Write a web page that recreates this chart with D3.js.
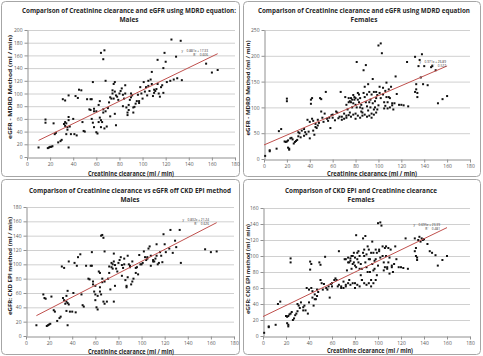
<!DOCTYPE html>
<html><head><meta charset="utf-8">
<script src="https://cdn.jsdelivr.net/npm/d3@7"></script>
<style>body{margin:0;background:#fff}svg{display:block}</style>
</head><body>
<svg id="c" width="483" height="356"></svg>
<script>
const xTicks = [0,20,40,60,80,100,120,140,160,180];
const malesMdrd = [[10,15],[16,59],[16,54],[18,14],[19,15],[20,16],[21,16],[22,17],[23,53],[25,38],[24,36],[27,23],[29,25],[30,27],[31,91],[33,89],[32,52],[33,55],[33,49],[34,53],[35,47],[36,63],[36,58],[37,48],[34,36],[35,43],[36,15],[36,97],[38,36],[40,60],[41,36],[42,96],[43,34],[44,93],[45,106],[47,105],[48,55],[49,41],[50,40],[52,91],[54,75],[55,91],[56,91],[57,118],[58,76],[56,60],[57,54],[58,47],[60,39],[61,37],[62,82],[63,88],[64,164],[66,154],[67,168],[68,120],[66,70],[63,62],[65,55],[64,47],[67,45],[69,48],[70,77],[71,86],[72,64],[73,92],[74,105],[75,115],[76,118],[77,50],[76,68],[78,95],[80,100],[82,108],[83,80],[84,92],[85,113],[86,78],[87,70],[88,74],[89,90],[90,100],[91,97],[92,70],[93,79],[94,84],[96,98],[97,88],[98,110],[100,92],[101,118],[102,103],[104,97],[105,120],[106,104],[107,122],[108,134],[109,96],[110,101],[112,107],[113,153],[115,95],[116,110],[117,113],[118,101],[119,164],[120,150],[118,140],[121,118],[124,120],[125,185],[127,122],[129,158],[133,183],[134,121],[155,147],[160,133],[165,137],[130,124],[55,74],[58,72],[60,72],[62,55],[64,58],[66,75],[68,72],[72,94],[74,100],[75,92],[76,103],[77,97],[79,90],[81,104],[83,98],[85,100],[87,66],[88,82],[90,94],[92,78],[95,88],[97,85],[99,100],[103,110],[105,112],[108,115],[110,106],[111,104],[113,115],[114,100]];
const femalesMdrd = [[1,6],[5,15],[5,17],[11,20],[13,54],[15,58],[20,117],[20,112],[18,34],[19,33],[20,34],[21,36],[21,22],[22,18],[22,20],[23,40],[24,41],[25,38],[28,35],[29,37],[30,44],[30,52],[31,50],[32,42],[33,55],[35,58],[37,48],[38,76],[39,53],[40,72],[40,40],[41,115],[41,107],[42,118],[42,78],[43,74],[43,55],[44,47],[45,68],[46,60],[47,65],[48,70],[49,118],[50,116],[50,92],[51,80],[52,72],[53,88],[54,130],[55,78],[56,74],[58,60],[59,85],[60,80],[62,75],[63,92],[65,79],[67,130],[68,82],[70,78],[71,120],[72,84],[73,96],[74,110],[75,90],[76,118],[77,100],[78,124],[79,115],[80,105],[80,88],[81,188],[82,128],[83,110],[84,100],[85,92],[86,84],[87,172],[88,140],[89,182],[90,125],[91,145],[92,110],[93,100],[94,88],[95,155],[96,130],[97,100],[98,118],[99,96],[100,220],[101,140],[102,224],[103,205],[104,125],[105,98],[106,132],[107,148],[108,110],[109,120],[110,100],[111,140],[112,108],[113,96],[115,160],[116,126],[118,105],[120,105],[122,104],[125,188],[126,102],[132,198],[133,135],[134,128],[135,180],[136,192],[137,158],[138,203],[139,145],[140,180],[143,143],[146,178],[147,180],[150,172],[152,108],[156,116],[160,122],[134,120],[133,145],[132,130],[72,105],[74,118],[75,112],[76,110],[77,115],[78,108],[79,120],[80,118],[81,100],[82,115],[83,125],[84,118],[85,105],[86,98],[87,128],[88,120],[89,110],[90,102],[91,94],[92,130],[93,115],[94,125],[95,108],[96,96],[97,112],[98,130],[99,124],[100,104],[101,128],[102,118],[104,138],[105,110],[106,103],[107,120],[108,98],[109,135],[110,118],[112,104],[114,108],[66,82],[68,76],[70,88],[72,80],[74,85],[76,82],[78,86],[80,78],[82,84],[84,80],[86,90],[88,86],[90,82],[92,84],[94,80],[96,86],[98,90],[64,90],[60,86],[57,80],[45,62],[47,76],[35,45],[36,52],[27,33],[26,30]];
const malesEpi = [[9,15],[15,58],[16,53],[17,52],[18,14],[19,15],[20,16],[21,17],[22,55],[24,36],[25,34],[27,21],[29,25],[30,27],[31,97],[33,95],[32,53],[33,50],[34,45],[35,48],[35,56],[36,63],[36,46],[37,44],[38,34],[35,35],[36,15],[37,104],[40,34],[41,60],[42,102],[43,33],[44,98],[45,110],[47,114],[48,58],[49,43],[50,41],[52,98],[54,80],[56,98],[57,117],[57,98],[58,76],[59,62],[60,58],[60,50],[61,40],[62,37],[63,90],[64,88],[65,140],[66,141],[67,137],[68,118],[66,75],[64,68],[65,58],[67,48],[68,45],[70,48],[71,80],[72,88],[73,65],[74,96],[75,100],[76,115],[76,48],[77,70],[78,94],[80,102],[82,110],[83,84],[84,95],[85,108],[86,78],[87,70],[88,112],[89,100],[90,98],[91,72],[92,104],[93,80],[95,95],[96,96],[98,113],[100,100],[101,102],[102,118],[104,106],[105,110],[106,122],[107,125],[108,98],[110,104],[112,108],[113,128],[115,102],[116,117],[117,112],[118,103],[119,142],[120,128],[121,117],[124,122],[125,148],[127,116],[129,133],[133,148],[134,102],[155,121],[160,117],[165,118],[130,124],[55,79],[58,72],[60,70],[62,56],[64,62],[66,80],[68,76],[72,97],[74,102],[75,94],[76,104],[77,99],[79,90],[81,106],[83,99],[85,100],[87,68],[88,82],[90,96],[92,76],[95,88],[97,86],[99,100],[103,110],[105,108],[108,112],[110,106],[111,104],[113,112],[114,100]];
const femalesEpi = [[1,4],[5,11],[5,12],[11,14],[13,40],[15,43],[24,97],[24,92],[20,25],[21,24],[22,25],[21,16],[22,12],[22,14],[23,27],[24,28],[25,30],[28,26],[29,28],[30,31],[30,40],[31,38],[32,35],[33,42],[35,36],[37,32],[38,60],[39,28],[40,58],[40,42],[41,93],[41,83],[42,90],[42,60],[43,56],[43,48],[44,38],[45,52],[46,46],[47,50],[48,55],[49,92],[50,89],[50,70],[51,66],[52,58],[53,65],[54,99],[55,60],[56,58],[58,48],[59,65],[60,62],[62,70],[63,72],[65,62],[66,106],[68,62],[70,60],[71,96],[72,64],[73,82],[74,92],[75,70],[76,97],[77,84],[78,100],[79,92],[80,88],[80,66],[81,126],[82,104],[83,92],[84,84],[85,76],[86,70],[87,122],[88,108],[89,125],[90,102],[91,112],[92,96],[93,80],[94,70],[95,118],[96,104],[97,84],[98,96],[99,76],[100,141],[101,108],[102,142],[103,138],[104,100],[105,82],[106,110],[107,112],[108,86],[109,92],[110,78],[111,108],[112,86],[113,80],[115,112],[116,96],[118,86],[120,86],[122,85],[124,122],[126,84],[132,122],[133,100],[134,98],[135,120],[136,124],[137,118],[138,122],[139,120],[140,121],[143,115],[145,106],[147,104],[150,101],[152,88],[156,95],[160,100],[134,95],[133,110],[132,106],[72,96],[74,98],[75,92],[76,94],[77,100],[78,90],[79,104],[80,98],[81,86],[82,96],[83,106],[84,100],[85,90],[86,84],[87,104],[88,100],[89,92],[90,86],[91,80],[92,108],[93,96],[94,104],[95,90],[96,82],[97,94],[98,108],[99,104],[100,88],[101,106],[102,98],[104,112],[105,92],[106,86],[107,100],[108,84],[109,110],[110,98],[112,88],[114,90],[66,64],[68,60],[70,68],[72,62],[74,66],[76,64],[78,66],[80,60],[82,64],[84,62],[86,70],[88,66],[90,64],[92,66],[94,62],[96,66],[98,70],[64,70],[60,66],[57,62],[45,46],[47,58],[35,32],[36,38],[27,22],[26,20]];
const titles = [
  ["Comparison of Creatinine clearance and eGFR using MDRD equation:", "Males"],
  ["Comparison of Creatinine clearance and eGFR using MDRD equation", "Females"],
  ["Comparison of  Creatinine clearance vs eGFR off CKD EPI method", "Males"],
  ["Comparison of CKD EPI and Creatinine clearance", "Females"]
];
const yTitles = ["eGFR - MDRD Method (ml / min)", "eGFR - MDRD Method (ml / min)", "eGFR: CKD EPI method (ml / min)", "eGFR: CKD EPI method (ml / min)"];
const xTitle = "Creatinine clearance (ml / min)";
const yMax = [200, 250, 180, 160];
const yStep = [20, 50, 20, 20];
const fits = [[0.881, 17.33], [0.957, 27.2], [0.832, 20.9], [0.695, 24.3]];
const fitRange = [[10,165],[0,160],[9,165],[0,160]];
const fitLabels = [["y = 0.881x + 17.33","R² = 0.606"],["y = 0.971x + 26.89","R² = 0.522"],["y = 0.832x + 21.24","R² = 0.626"],["y = 0.695x + 23.39","R² = 0.481"]];
const datasets = [malesMdrd, femalesMdrd, malesEpi, femalesEpi];

const layout = [
  {box:[1,1,239,176], x0:27,x1:235,yb:157,yt:30, tw:214,tx:129,t1:12.5,t2:22, ytx:10,ytc:87,ytl:104, xtc:131,xty:175.5,xtl:86, fx:208,fy:52},
  {box:[243,1,238,176], x0:264,x1:470,yb:159,yt:30, tw:212,tx:364,t1:13,t2:22, ytx:248,ytc:88,ytl:95, xtc:372,xty:176,xtl:90, fx:446,fy:63},
  {box:[1,179,239,176], x0:26,x1:234,yb:336,yt:207, tw:202,tx:130,t1:192.5,t2:201.5, ytx:10,ytc:266,ytl:98, xtc:131,xty:353.5,xtl:86, fx:209,fy:221},
  {box:[243,179,238,176], x0:263,x1:470,yb:336,yt:208, tw:152,tx:361,t1:192.5,t2:201.5, ytx:248,ytc:269,ytl:90, xtc:370,xty:353,xtl:86, fx:440,fy:226}
];

const svg = d3.select("#c");
const font = "'Open Sans', 'Liberation Sans', sans-serif";

layout.forEach((L, i) => {
  const g = svg.append("g");
  g.append("rect").attr("x",L.box[0]+0.5).attr("y",L.box[1]+0.5).attr("width",L.box[2]-1).attr("height",L.box[3]-1)
    .attr("rx",4).attr("fill","none").attr("stroke","#a6a6a6").attr("stroke-width",1);
  const x = d3.scaleLinear().domain([0,180]).range([L.x0, L.x1]);
  const y = d3.scaleLinear().domain([0,yMax[i]]).range([L.yb, L.yt]);
  const yt = d3.range(0, yMax[i]+1, yStep[i]);
  g.selectAll(".grid").data(yt.filter(v=>v>0)).join("line")
    .attr("x1",L.x0).attr("x2",L.x1).attr("y1",d=>y(d)+0.5).attr("y2",d=>y(d)+0.5)
    .attr("stroke","#d0d0d0").attr("stroke-width",1);
  const ax = d3.axisBottom(x).tickValues(xTicks).tickSize(3).tickSizeOuter(0).tickPadding(2);
  const gx = g.append("g").attr("transform",`translate(0,${L.yb+0.5})`).call(ax);
  gx.select(".domain").attr("stroke","#909090");
  gx.selectAll(".tick line").attr("stroke","#909090");
  gx.selectAll("text").attr("fill","#595959").attr("font-size",5).attr("font-family",font);
  const ay = d3.axisLeft(y).tickValues(yt).tickSize(3).tickSizeOuter(0);
  const gy = g.append("g").attr("transform",`translate(${L.x0+0.5},0)`).call(ay);
  gy.select(".domain").attr("stroke","#909090");
  gy.selectAll(".tick line").attr("stroke","#909090");
  gy.selectAll("text").attr("fill","#595959").attr("font-size",5).attr("font-family",font).attr("x",-5);
  g.selectAll(".pt").data(datasets[i]).join("rect")
    .attr("x",d=>x(d[0])-1).attr("y",d=>y(d[1])-1).attr("width",2).attr("height",2).attr("fill","#111");
  const [m,b] = fits[i];
  const [a0,a1] = fitRange[i];
  g.append("line").attr("x1",x(a0)).attr("y1",y(m*a0+b)).attr("x2",x(a1)).attr("y2",y(m*a1+b))
    .attr("stroke","#c0504d").attr("stroke-width",1);
  g.append("text").attr("x",L.fx).attr("y",L.fy).attr("text-anchor","end").attr("font-size",3.2).attr("font-family",font).attr("fill","#333").text(fitLabels[i][0]);
  g.append("text").attr("x",L.fx).attr("y",L.fy+4).attr("text-anchor","end").attr("font-size",3.2).attr("font-family",font).attr("fill","#333").text(fitLabels[i][1]);
  g.append("text").attr("x",L.tx).attr("y",L.t1).attr("text-anchor","middle").attr("font-size",6.2).attr("font-weight","bold")
    .attr("font-family",font).attr("fill","#262626").attr("textLength",L.tw).attr("lengthAdjust","spacingAndGlyphs").text(titles[i][0]);
  g.append("text").attr("x",L.tx).attr("y",L.t2).attr("text-anchor","middle").attr("font-size",6.5).attr("font-weight","bold")
    .attr("font-family",font).attr("fill","#262626").text(titles[i][1]);
  g.append("text").attr("transform",`translate(${L.ytx},${L.ytc}) rotate(-90)`).attr("text-anchor","middle").attr("font-size",6)
    .attr("font-weight","bold").attr("font-family",font).attr("fill","#262626").attr("dy","0.35em")
    .attr("textLength",L.ytl).attr("lengthAdjust","spacingAndGlyphs").text(yTitles[i]);
  g.append("text").attr("x",L.xtc).attr("y",L.xty).attr("text-anchor","middle").attr("font-size",6.3)
    .attr("font-weight","bold").attr("font-family",font).attr("fill","#262626")
    .attr("textLength",L.xtl).attr("lengthAdjust","spacingAndGlyphs").text(xTitle);
});
</script>
</body></html>
